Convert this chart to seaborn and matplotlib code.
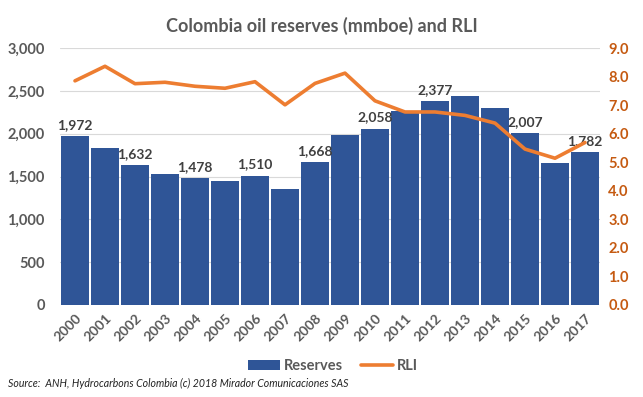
import numpy as np
import pandas as pd
import matplotlib
matplotlib.use("Agg")
import matplotlib.pyplot as plt
import seaborn as sns
from matplotlib.patches import Patch
from matplotlib.lines import Line2D

years = ["2000", "2001", "2002", "2003", "2004", "2005", "2006", "2007", "2008",
         "2009", "2010", "2011", "2012", "2013", "2014", "2015", "2016", "2017"]
reserves = [1972, 1836, 1632, 1535, 1478, 1452, 1510, 1358, 1668,
            1990, 2058, 2260, 2377, 2445, 2305, 2007, 1662, 1782]
rli = [7.85, 8.36, 7.75, 7.80, 7.66, 7.59, 7.82, 7.01, 7.76,
       8.12, 7.15, 6.76, 6.76, 6.64, 6.37, 5.46, 5.14, 5.69]
labeled_years = ["2000", "2002", "2004", "2006", "2008", "2010", "2012", "2015", "2017"]
left_ticks = [0, 500, 1000, 1500, 2000, 2500, 3000]
right_ticks = [0, 1, 2, 3, 4, 5, 6, 7, 8, 9]

sns.set_theme(style="white")
plt.rcParams["font.family"] = ["Lato", "DejaVu Sans"]

BLUE = "#2F5597"
ORANGE = "#ED7D31"
DARKORANGE = "#C55A11"
GREY = "#595959"

df = pd.DataFrame({"year": years, "reserves": reserves, "rli": rli})

fig = plt.figure(figsize=(6.43, 3.97), dpi=100)
ax = fig.add_axes([60 / 643, 1 - 305 / 397, 540 / 643, 257 / 397])

sns.barplot(data=df, x="year", y="reserves", color=BLUE, saturation=1,
            width=0.93, edgecolor="none", ax=ax, zorder=2)
ax.set_ylim(0, 3000)
ax.set_yticks(left_ticks)
ax.set_yticklabels([f"{v:,}" for v in left_ticks], fontsize=10.5,
                   fontweight="bold", color=GREY)
ax.yaxis.grid(True, color="#D9D9D9", linewidth=0.8, zorder=0)
ax.set_axisbelow(True)
ax.set_xlabel("")
ax.set_ylabel("")
for s in ax.spines.values():
    s.set_visible(False)
ax.tick_params(axis="y", length=0, pad=11)
ax.set_xticks(range(len(years)))
ax.set_xticklabels(years, rotation=45, ha="right", rotation_mode="anchor",
                   fontsize=10, fontweight="bold", color=GREY)
ax.tick_params(axis="x", length=0, pad=5)
ax.set_xlim(-0.5, len(years) - 0.5)

for i, (y, v) in enumerate(zip(years, reserves)):
    if y in labeled_years:
        ax.text(i, v + 60, f"{v:,}", ha="center", va="bottom", fontsize=10,
                fontweight="bold", color="#404040", zorder=5)

ax2 = ax.twinx()
sns.lineplot(x=np.arange(len(years)), y=rli, color=ORANGE, linewidth=2.6,
             ax=ax2, zorder=3)
ax2.set_ylim(0, 9)
ax2.set_yticks(right_ticks)
ax2.set_yticklabels([f"{v:.1f}" for v in right_ticks], fontsize=10.5,
                    fontweight="bold", color=DARKORANGE)
ax2.tick_params(axis="y", length=0, pad=6)
for s in ax2.spines.values():
    s.set_visible(False)
ax2.grid(False)
ax2.set_ylabel("")

fig.text(322 / 643, 1 - 26 / 397, "Colombia oil reserves (mmboe) and RLI",
         ha="center", va="center", fontsize=13, fontweight="bold", color=GREY)

handles = [Patch(facecolor=BLUE, edgecolor="none"),
           Line2D([0], [0], color=ORANGE, linewidth=2.6)]
fig.legend(handles, ["Reserves", "RLI"], loc="center", ncol=2,
           bbox_to_anchor=(333 / 643, 1 - 366 / 397), frameon=False,
           prop={"weight": "bold", "size": 10.5}, labelcolor=GREY,
           handlelength=2.2, handletextpad=0.3, columnspacing=1.2)

fig.text(8 / 643, 1 - 383 / 397,
         "Source:  ANH, Hydrocarbons Colombia (c) 2018 Mirador Comunicaciones SAS",
         ha="left", va="center", fontsize=7.6, style="italic", color="#222222")

fig.savefig("out.png", dpi=100)
